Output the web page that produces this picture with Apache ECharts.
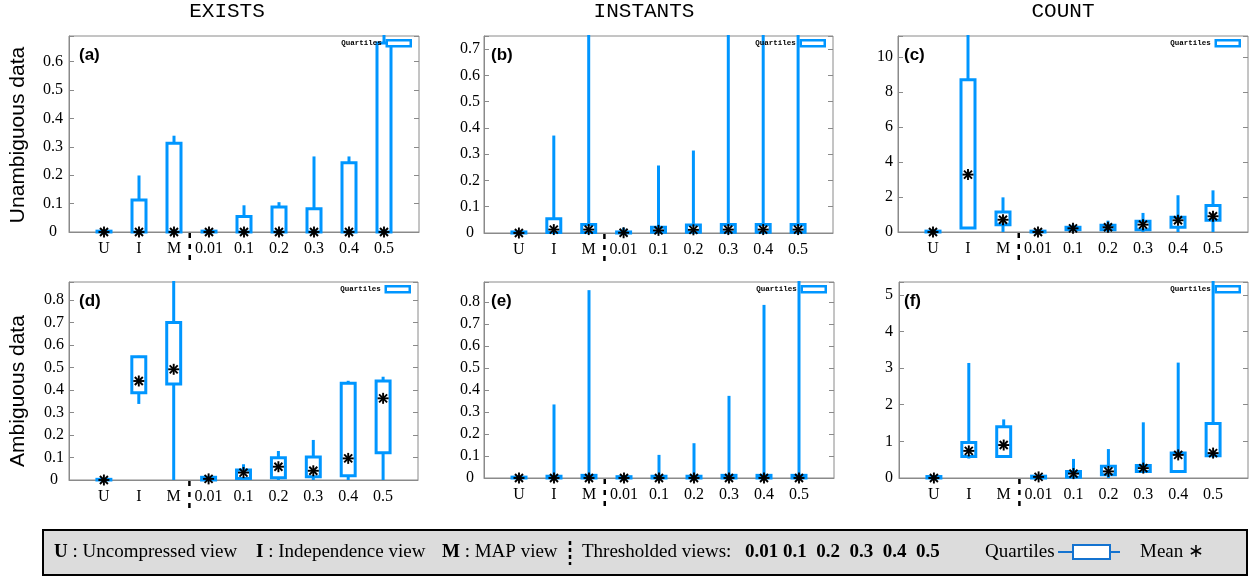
<!DOCTYPE html>
<html><head><meta charset="utf-8">
<script src="https://cdn.jsdelivr.net/npm/echarts@6/dist/echarts.min.js"></script>
<style>html,body{margin:0;padding:0;background:#fff}#c{width:1253px;height:577px}</style>
</head><body><div id="c"></div>
<script>
// ---------------- data ----------------
const categories = ['U', 'I', 'M', '0.01', '0.1', '0.2', '0.3', '0.4', '0.5'];
// each row: [min, q1, q3, max]
const existsUnambBox = [[0,0,0.003,0.003],[0,0,0.113,0.199],[0,0,0.312,0.339],[0,0,0.003,0.003],[0,0,0.055,0.094],[0,0,0.088,0.105],[0,0,0.082,0.266],[0,0,0.244,0.266],[0,0,0.665,0.70]];
const existsUnambMean = [0,0,0,0,0,0,0,0,0];
const instantsUnambBox = [[0,0,0.004,0.004],[0,0.002,0.054,0.371],[0,0.002,0.032,0.9],[0,0,0.004,0.02],[0,0.003,0.022,0.257],[0,0.003,0.030,0.314],[0,0.003,0.032,0.9],[0,0.003,0.032,0.9],[0,0.003,0.032,0.9]];
const instantsUnambMean = [0,0.013,0.013,0.001,0.010,0.012,0.013,0.013,0.013];
const countUnambBox = [[0,0,0.05,0.05],[0.2,0.23,8.7,12],[0,0.42,1.14,1.98],[0,0,0.05,0.05],[0.05,0.13,0.27,0.42],[0,0.13,0.38,0.65],[0,0.13,0.61,1.09],[0,0.27,0.84,2.1],[0,0.67,1.52,2.38]];
const countUnambMean = [0,3.28,0.70,0,0.21,0.27,0.42,0.67,0.90];
const existsAmbBox = [[0,0,0.003,0.003],[0.338,0.388,0.548,0.552],[0,0.427,0.70,0.9],[0,0,0.012,0.012],[0,0.007,0.044,0.07],[0,0.01,0.099,0.129],[0,0.015,0.102,0.178],[0,0.019,0.43,0.441],[0,0.121,0.44,0.459]];
const existsAmbMean = [0,0.44,0.492,0.005,0.033,0.059,0.041,0.096,0.363];
const instantsAmbBox = [[0,0,0.004,0.004],[0,0,0.008,0.334],[0,0,0.012,0.853],[0,0,0.006,0.006],[0,0,0.008,0.105],[0,0,0.008,0.158],[0,0,0.012,0.373],[0,0,0.012,0.786],[0,0,0.012,0.95]];
const instantsAmbMean = [0,0,0,0,0,0,0,0,0];
const countAmbBox = [[0,0,0.04,0.04],[0.53,0.59,0.97,3.14],[0.57,0.59,1.40,1.6],[0,0,0.05,0.05],[0,0.02,0.18,0.52],[0,0.09,0.32,0.79],[0.15,0.18,0.34,1.52],[0.15,0.18,0.68,3.15],[0.6,0.61,1.49,6]];
const countAmbMean = [0,0.74,0.90,0.03,0.12,0.18,0.27,0.63,0.68];
// y axis extents and tick steps per panel (a..f)
const yAxisMax = [0.69, 0.75, 11.2, 0.88, 0.89, 5.35];
const yAxisStep = [0.1, 0.1, 2, 0.1, 0.1, 1];
const columnTitles = ['EXISTS', 'INSTANTS', 'COUNT'];
const rowTitles = ['Unambiguous data', 'Ambiguous data'];
const panelLetters = ['(a)', '(b)', '(c)', '(d)', '(e)', '(f)'];

// ---------------- layout / style ----------------
const BLUE = '#0096ff';
const FRAME = '#8a8a8a';
const BOX_WIDTH = 0.4;        // in x units
const SEPARATOR_AT = 3.45;    // between M and 0.01
const boxes = [existsUnambBox, instantsUnambBox, countUnambBox, existsAmbBox, instantsAmbBox, countAmbBox];
const means = [existsUnambMean, instantsUnambMean, countUnambMean, existsAmbMean, instantsAmbMean, countAmbMean];
const layout = [
  {left: 69,  top: 36,  width: 350, height: 196, align: 'center', margin: 16, ldx: 10},
  {left: 484, top: 36,  width: 349, height: 197, align: 'center', margin: 14, ldx: 7},
  {left: 898, top: 36,  width: 350, height: 196, align: 'right',  margin: 5,  ldx: 6},
  {left: 69,  top: 282, width: 349, height: 198, align: 'center', margin: 15, ldx: 10},
  {left: 484, top: 282, width: 350, height: 196, align: 'center', margin: 14, ldx: 7},
  {left: 899, top: 282, width: 349, height: 196, align: 'right',  margin: 6,  ldx: 5}
];

function yFmt(step) {
  return function (v) {
    const k = v / step;
    if (Math.abs(k - Math.round(k)) > 1e-6) return '';
    return v === 0 ? '0' : String(+v.toFixed(2));
  };
}

function renderBox(params, api) {
  const x = api.value(0);
  const mn = api.value(1), q1 = api.value(2), q3 = api.value(3), mx = api.value(4);
  const cs = params.coordSys;
  const ceil = cs.y - 1;
  const c = api.coord([x, q1]);
  const cx = c[0];
  const yQ1 = c[1];
  const yQ3 = api.coord([x, q3])[1];
  const yMin = api.coord([x, mn])[1];
  const yMax = Math.max(api.coord([x, mx])[1], ceil);
  const w = api.size([BOX_WIDTH, 0])[0];
  const st = {stroke: BLUE, lineWidth: 3};
  const ch = [];
  if (mx > q3) ch.push({type: 'line', shape: {x1: cx, y1: yQ3, x2: cx, y2: yMax}, style: st});
  if (mn < q1) ch.push({type: 'line', shape: {x1: cx, y1: yQ1, x2: cx, y2: yMin}, style: st});
  const h = Math.max(yQ1 - yQ3, 0.6);
  ch.push({type: 'rect', shape: {x: cx - w / 2, y: yQ1 - h, width: w, height: h},
           style: {stroke: BLUE, lineWidth: 3, fill: 'none'}});
  return {type: 'group', children: ch};
}

function renderStar(params, api) {
  const p = api.coord([api.value(0), api.value(1)]);
  const r = 5.5, d = 4;
  const st = {stroke: '#000', lineWidth: 1.9};
  return {type: 'group', children: [
    {type: 'line', shape: {x1: p[0] - r, y1: p[1], x2: p[0] + r, y2: p[1]}, style: st},
    {type: 'line', shape: {x1: p[0], y1: p[1] - r, x2: p[0], y2: p[1] + r}, style: st},
    {type: 'line', shape: {x1: p[0] - d, y1: p[1] - d, x2: p[0] + d, y2: p[1] + d}, style: st},
    {type: 'line', shape: {x1: p[0] - d, y1: p[1] + d, x2: p[0] + d, y2: p[1] - d}, style: st}
  ]};
}

function renderSep(params, api) {
  const p = api.coord([api.value(0), 0]);
  return {type: 'line', shape: {x1: p[0], y1: p[1] + 1, x2: p[0], y2: p[1] + 34},
          style: {stroke: '#000', lineWidth: 2.5, lineDash: [5, 6]}};
}

const grids = [], xAxes = [], yAxes = [], series = [], legends = [];
layout.forEach(function (L, i) {
  grids.push({left: L.left, top: L.top, width: L.width, height: L.height, show: true,
              borderColor: FRAME, borderWidth: 1, backgroundColor: 'transparent', outerBoundsMode: 'none', containLabel: false});
  xAxes.push({type: 'value', gridIndex: i, min: 0, max: 10, interval: 1,
              axisLine: {show: true, onZero: false, lineStyle: {color: FRAME, width: 1}},
              axisTick: {show: false}, splitLine: {show: false},
              axisLabel: {formatter: function (v) { return categories[Math.round(v) - 1] || ''; },
                          color: '#000', fontFamily: 'Liberation Serif', fontSize: 16, margin: 9}});
  yAxes.push({type: 'value', gridIndex: i, min: 0, max: yAxisMax[i], interval: yAxisStep[i],
              axisLine: {show: true, lineStyle: {color: FRAME}},
              axisTick: {show: true, inside: true, length: 5, lineStyle: {color: FRAME}},
              splitLine: {show: false},
              axisLabel: {formatter: yFmt(yAxisStep[i]), color: '#000', fontFamily: 'Liberation Serif',
                          fontSize: 16, align: L.align, margin: L.margin}});
  legends.push({data: ['Quartiles'], selectedMode: false, padding: 0, align: 'right',
                right: 1253 - (L.left + L.width) + 7, top: L.top + 3,
                icon: 'rect', itemWidth: 24, itemHeight: 6,
                itemStyle: {color: '#ffffff', borderColor: BLUE, borderWidth: 2.5},
                textStyle: {fontFamily: 'Liberation Mono', fontWeight: 'bold', fontSize: 7.5, color: '#000'}});
});
layout.forEach(function (L, i) {
  yAxes.push({type: 'value', gridIndex: i, position: 'right', min: 0, max: yAxisMax[i], interval: yAxisStep[i],
              axisLine: {show: false}, axisTick: {show: true, inside: true, length: 5, lineStyle: {color: FRAME}},
              splitLine: {show: false}, axisLabel: {show: false}});
  series.push({type: 'custom', name: 'Quartiles', xAxisIndex: i, yAxisIndex: i, clip: false, z: 3,
               itemStyle: {color: BLUE},
               encode: {x: 0, y: [1, 2, 3, 4]},
               data: boxes[i].map(function (b, k) { return [k + 1, b[0], b[1], b[2], b[3]]; }),
               renderItem: renderBox});
  series.push({type: 'custom', name: 'Mean', xAxisIndex: i, yAxisIndex: i, clip: false, z: 4,
               encode: {x: 0, y: 1},
               data: means[i].map(function (m, k) { return [k + 1, m]; }),
               renderItem: renderStar});
  series.push({type: 'custom', name: 'sep', xAxisIndex: i, yAxisIndex: i, clip: false, z: 2, silent: true,
               encode: {x: 0, y: 1}, data: [[SEPARATOR_AT, 0]], renderItem: renderSep});
});

const graphics = [];
const titleX = [227, 644, 1063];
columnTitles.forEach(function (t, i) {
  graphics.push({type: 'text', x: titleX[i], y: 11, style: {text: t, fontFamily: 'Liberation Mono', fontSize: 21,
                 fill: '#000', align: 'center', verticalAlign: 'middle'}});
});
const rowY = [135, 391];
rowTitles.forEach(function (t, i) {
  graphics.push({type: 'text', x: 18, y: rowY[i], rotation: Math.PI / 2,
                 style: {text: t, fontFamily: 'Liberation Sans', fontSize: 21, fill: '#000', align: 'center', verticalAlign: 'middle'}});
});
layout.forEach(function (L, i) {
  graphics.push({type: 'text', x: L.left + L.ldx, y: L.top + 19,
                 style: {text: panelLetters[i], fontFamily: 'Liberation Sans', fontWeight: 'bold', fontSize: 17,
                         fill: '#000', align: 'left', verticalAlign: 'middle'}});
});
// bottom key box
const KY = 552;
const serif = 'Liberation Serif';
const KF = 19;
const rich = {b: {fontWeight: 'bold', fontFamily: serif, fontSize: KF, fill: '#000'},
              n: {fontFamily: serif, fontSize: KF, fill: '#000'}};
function keyText(x, txt) {
  return {type: 'text', x: x, y: KY, style: {text: txt, rich: rich, fontFamily: serif, fontSize: KF, fill: '#000',
          align: 'left', verticalAlign: 'middle'}};
}
graphics.push({type: 'rect', shape: {x: 43, y: 530, width: 1204, height: 45},
               style: {fill: '#dcdcdc', stroke: '#000', lineWidth: 2}});
graphics.push(keyText(54, '{b|U}{n| : Uncompressed view}'));
graphics.push(keyText(256, '{b|I}{n| : Independence view}'));
graphics.push(keyText(442, '{b|M}{n| : MAP view}'));
graphics.push({type: 'line', shape: {x1: 570, y1: 541, x2: 570, y2: 565},
               style: {stroke: '#000', lineWidth: 2.5, lineDash: [4, 3]}});
graphics.push(keyText(582, '{n|Thresholded views:}'));
const t = categories.slice(3);
graphics.push(keyText(745, '{b|' + t[0] + ' ' + t[1] + '  ' + t[2] + '  ' + t[3] + '  ' + t[4] + '  ' + t[5] + '}'));
graphics.push(keyText(985, '{n|Quartiles}'));
const KB = '#1473d0';
graphics.push({type: 'line', shape: {x1: 1058, y1: KY, x2: 1073, y2: KY}, style: {stroke: KB, lineWidth: 2}});
graphics.push({type: 'rect', shape: {x: 1073, y: KY - 7, width: 37, height: 14}, style: {fill: '#fff', stroke: KB, lineWidth: 2}});
graphics.push({type: 'line', shape: {x1: 1110, y1: KY, x2: 1120, y2: KY}, style: {stroke: KB, lineWidth: 2}});
graphics.push(keyText(1140, '{n|Mean ∗}'));

const chart = echarts.init(document.getElementById('c'), null, {renderer: 'canvas'});
chart.setOption({
  animation: false,
  backgroundColor: '#ffffff',
  grid: grids, xAxis: xAxes, yAxis: yAxes, series: series, legend: legends, graphic: graphics
});
</script></body></html>
